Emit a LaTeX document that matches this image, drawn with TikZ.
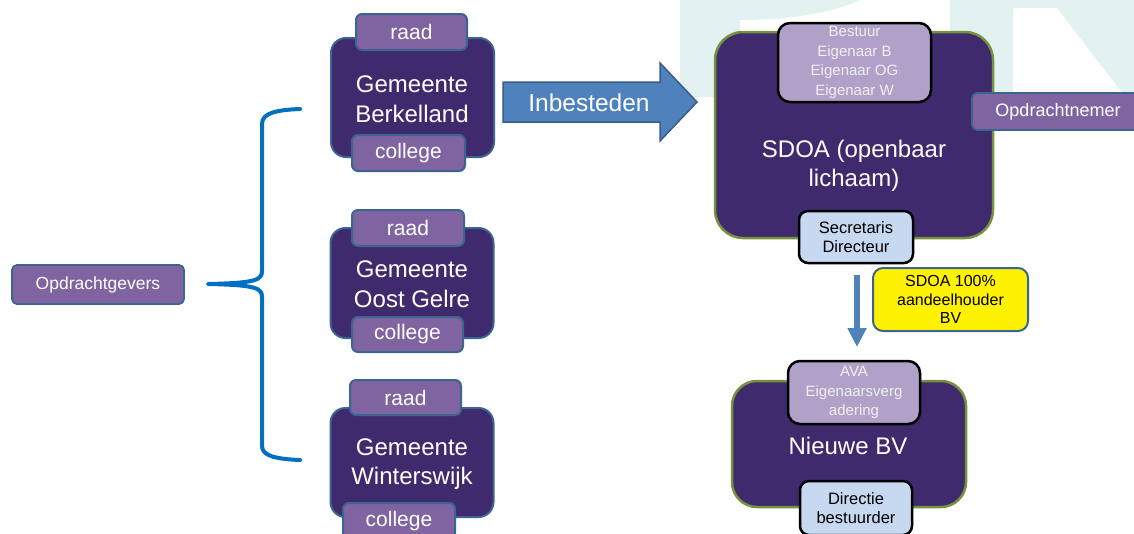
\documentclass[tikz,border=0pt]{standalone}
\usepackage{fontspec}
\setmainfont{Liberation Sans}
\usetikzlibrary{arrows.meta}
\definecolor{dpurple}{HTML}{402A6E}
\definecolor{mpurple}{HTML}{8064A2}
\definecolor{lpurple}{HTML}{B1A0C7}
\definecolor{lblue}{HTML}{C6D9F1}
\definecolor{gemborder}{HTML}{3B6491}
\definecolor{olivebd}{HTML}{76923C}
\definecolor{arrowblue}{HTML}{4F81BD}
\definecolor{arrowbd}{HTML}{385D8A}
\definecolor{bracecol}{HTML}{0070C0}
\definecolor{wmark}{HTML}{E1F2F0}
\begin{document}
\begin{tikzpicture}[x=1pt,y=-1pt,
  every node/.style={inner sep=0pt, outer sep=0pt, align=center},
  gembox/.style={draw=gemborder, fill=dpurple, line width=2pt, rounded corners=15pt, minimum width=163pt},
  tabbox/.style={draw=gemborder, fill=mpurple, line width=2pt, rounded corners=6pt, minimum width=112pt, minimum height=36pt, text=white, font=\fontsize{21}{24}\selectfont},
  bigtext/.style={text=white, font=\fontsize{24}{29.5}\selectfont},
  orgbox/.style={draw=olivebd, fill=dpurple, line width=2.5pt, rounded corners=28pt},
  lpbox/.style={draw=black, fill=lpurple, line width=2.5pt, rounded corners=12pt, text=white!94!black, font=\fontsize{15}{19.5}\selectfont},
  lbbox/.style={draw=black, fill=lblue, line width=2.5pt, rounded corners=9pt, font=\fontsize{16.5}{19}\selectfont},
  labelbox/.style={draw=gemborder, fill=mpurple, line width=1.8pt, rounded corners=5pt, text=white, font=\fontsize{17.5}{20}\selectfont},
  bracestyle/.style={draw=bracecol, line width=4pt, line cap=round, line join=round},
  downarrow/.style={draw=arrowblue, line width=6pt, -{Triangle[width=18pt,length=19pt]}}
]
% background and bounding box
\fill[white] (0,0) rectangle (1134,533);
\useasboundingbox (0,0) rectangle (1134,533);
% watermark
\fill[wmark] (680,0) -- (860,0) .. controls (830,14) and (785,20) .. (740,20) -- (740,97) -- (680,97) -- cycle;
\fill[wmark] (950,0) -- (1134,0) -- (1134,108) -- (1057,8) -- (1013,8) -- (1013,95) -- (950,95) -- cycle;

% left label and brace
\node[labelbox, minimum width=172pt, minimum height=39pt] (og) at (98,284.5) {Opdrachtgevers};
\draw[bracestyle] (300,109) .. controls (276,110) and (262,113) .. (262,124) -- (262,271)
  .. controls (262,280) and (256,283) .. (208,284)
  .. controls (256,285) and (262,288) .. (262,297) -- (262,446)
  .. controls (262,456) and (276,459) .. (300,460);

% Gemeente Berkelland
\node[gembox, minimum height=119pt] (g1) at (412.5,97.5) {};
\node[tabbox, minimum width=111pt] (g1r) at (411.5,32) {raad};
\node[tabbox, minimum width=113pt] (g1c) at (408.5,153) {college};
\node[bigtext] (g1t) at (412,99) {Gemeente\\Berkelland};

% Gemeente Oost Gelre
\node[gembox, minimum height=110pt] (g2) at (412,283) {};
\node[tabbox] (g2r) at (408,228) {raad};
\node[tabbox, minimum width=111pt, minimum height=35pt] (g2c) at (407.5,334.5) {college};
\node[bigtext] (g2t) at (412,284) {Gemeente\\Oost Gelre};

% Gemeente Winterswijk
\node[gembox, minimum height=109pt] (g3) at (412,462.5) {};
\node[tabbox, minimum width=111pt, minimum height=35pt] (g3r) at (405.5,397.5) {raad};
\node[tabbox] (g3c) at (399,521) {college};
\node[bigtext] (g3t) at (412,464) {Gemeente\\Winterswijk};

% Inbesteden arrow
\filldraw[fill=arrowblue, draw=arrowbd, line width=1.5pt, line join=miter]
  (503,82) -- (660,82) -- (660,63) -- (697,102) -- (660,141) -- (660,122) -- (503,122) -- cycle;
\node[text=white, font=\fontsize{24.5}{28}\selectfont] (inb) at (589,103) {Inbesteden};

% SDOA
\node[orgbox, minimum width=278pt, minimum height=206pt] (sdoa) at (854,135) {};
\node[lpbox, minimum width=153pt, minimum height=79pt] (best) at (854.5,62.5) {Bestuur\\Eigenaar B\\Eigenaar OG\\Eigenaar W};
\node[labelbox, minimum width=172pt, minimum height=37pt, font=\fontsize{18}{20}\selectfont] (onem) at (1058,111.5) {Opdrachtnemer};
\node[bigtext] (sdoat) at (854,166) {SDOA (openbaar\\lichaam)};
\node[lbbox, minimum width=114pt, minimum height=52pt] (sec) at (856,237) {Secretaris\\Directeur};

% yellow note
\node[draw=gemborder, fill=yellow, line width=2pt, rounded corners=10pt, minimum width=155pt, minimum height=63pt, font=\fontsize{16}{18.5}\selectfont] (yel) at (950.5,299.5) {SDOA 100\%\\aandeelhouder\\BV};

% Nieuwe BV
\node[orgbox, rounded corners=25pt, minimum width=234pt, minimum height=126pt] (nbv) at (849,444) {};
\node[lpbox, minimum width=132pt, minimum height=63pt] (ava) at (854,392.5) {AVA\\Eigenaarsverg\\adering};
\node[bigtext] (nbvt) at (848,446) {Nieuwe BV};
\node[lbbox, minimum width=112pt, minimum height=54pt] (dir) at (856,508) {Directie\\bestuurder};

% down arrow
\draw[downarrow] ([xshift=1pt,yshift=-12pt]sec.south) -- ([xshift=3pt,yshift=14pt]ava.north);
\end{tikzpicture}
\end{document}
